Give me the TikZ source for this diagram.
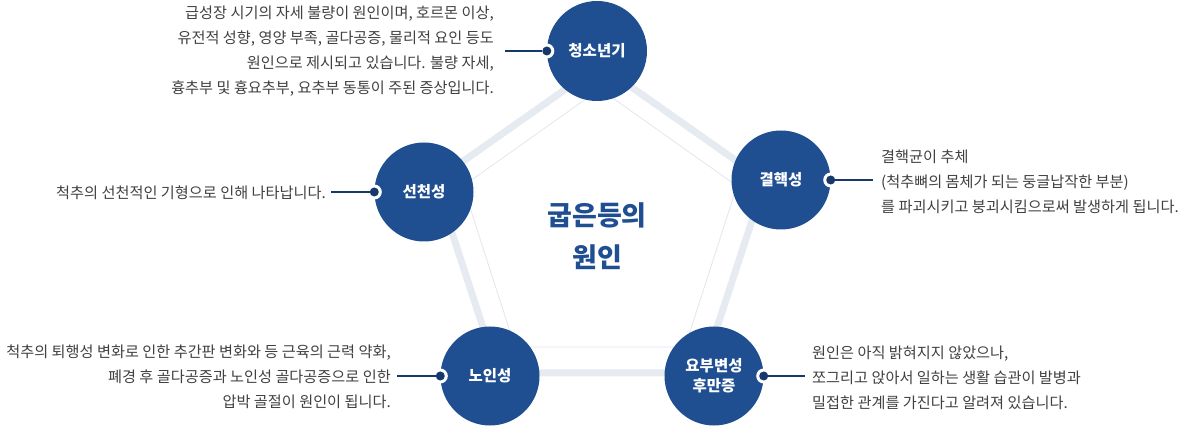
\documentclass[tikz,border=0pt]{standalone}
\usepackage{fontspec}
\setmainfont{Noto Sans CJK KR}
\definecolor{cblue}{HTML}{1F4E91}
\definecolor{navy}{HTML}{17386B}
\definecolor{thickc}{HTML}{E6EAF1}
\definecolor{thinc}{HTML}{E1E6EF}
\definecolor{txtc}{HTML}{404040}
\begin{document}
\begin{tikzpicture}[x=1pt,y=-1pt,
  thickline/.style={draw=thickc,line width=7pt,line join=miter},
  thinline/.style={draw=thinc,line width=0.8pt},
  causecircle/.style={circle,fill=cblue,text=white,minimum size=99pt,inner sep=0pt,
    font=\fontsize{15.5}{20}\selectfont\bfseries,align=center},
  ringmark/.style={circle,fill=white,minimum size=15pt,inner sep=0pt},
  dotmark/.style={circle,fill=navy,minimum size=9pt,inner sep=0pt},
  leader/.style={draw=navy,line width=1.1pt},
  desc/.style={text=txtc,inner sep=0pt,font=\fontsize{15.2}{25}\selectfont},
  titletext/.style={text=cblue,font=\fontsize{27}{42}\selectfont\bfseries,align=center,inner sep=0pt}]
\useasboundingbox (0,0) rectangle (1183,427);
% pentagons
\draw[thickline] (600,65) -- (765,181) -- (702,373) -- (498,373) -- (435,181) -- cycle;
\draw[thinline] (600,89) -- (737,186) -- (685,347) -- (515,347) -- (463,186) -- cycle;
% title
\node[titletext] (title) at (597,236) {굽은등의\\원인};
% circles
\node[causecircle,minimum size=100pt] (youth) at (597,51) {청소년기};
\node[causecircle] (cong) at (424,192) {선천성};
\node[causecircle] (tb) at (781,180) {결핵성};
\node[causecircle] (old) at (490,376) {노인성};
\node[causecircle] (lumbar) at (714,376) {요부변성\\후만증};
% markers
\node[ringmark] (r1) at (youth.west) {};
\node[dotmark] (m1) at (youth.west) {};
\node[ringmark] (r2) at (cong.west) {};
\node[dotmark] (m2) at (cong.west) {};
\node[ringmark] (r3) at (tb.east) {};
\node[dotmark] (m3) at (tb.east) {};
\node[ringmark] (r4) at (old.west) {};
\node[dotmark] (m4) at (old.west) {};
\node[ringmark] (r5) at (lumbar.east) {};
\node[dotmark] (m5) at (lumbar.east) {};
% texts
\node[desc,anchor=east,align=right] (t1) at (494,51) {급성장 시기의 자세 불량이 원인이며, 호르몬 이상,\\유전적 성향, 영양 부족, 골다공증, 물리적 요인 등도\\원인으로 제시되고 있습니다. 불량 자세,\\흉추부 및 흉요추부, 요추부 동통이 주된 증상입니다.};
\node[desc,anchor=east,align=right] (t2) at (326,193) {척추의 선천적인 기형으로 인해 나타납니다.};
\node[desc,anchor=west,align=left] (t3) at (881,182) {결핵균이 추체\\(척추뼈의 몸체가 되는 둥글납작한 부분)\\를 파괴시키고 붕괴시킴으로써 발생하게 됩니다.};
\node[desc,anchor=east,align=right] (t4) at (391,377) {척추의 퇴행성 변화로 인한 추간판 변화와 등 근육의 근력 약화,\\폐경 후 골다공증과 노인성 골다공증으로 인한\\압박 골절이 원인이 됩니다.};
\node[desc,anchor=west,align=left] (t5) at (812,378) {원인은 아직 밝혀지지 않았으나,\\쪼그리고 앉아서 일하는 생활 습관이 발병과\\밀접한 관계를 가진다고 알려져 있습니다.};
% leader lines
\coordinate (a1) at (505,51);
\coordinate (a2) at (331,192);
\coordinate (a3) at (873,180);
\coordinate (a4) at (397,376);
\coordinate (a5) at (805,376);
\draw[leader] (a1) -- (m1);
\draw[leader] (a2) -- (m2);
\draw[leader] (a3) -- (m3);
\draw[leader] (a4) -- (m4);
\draw[leader] (a5) -- (m5);
\end{tikzpicture}
\end{document}
